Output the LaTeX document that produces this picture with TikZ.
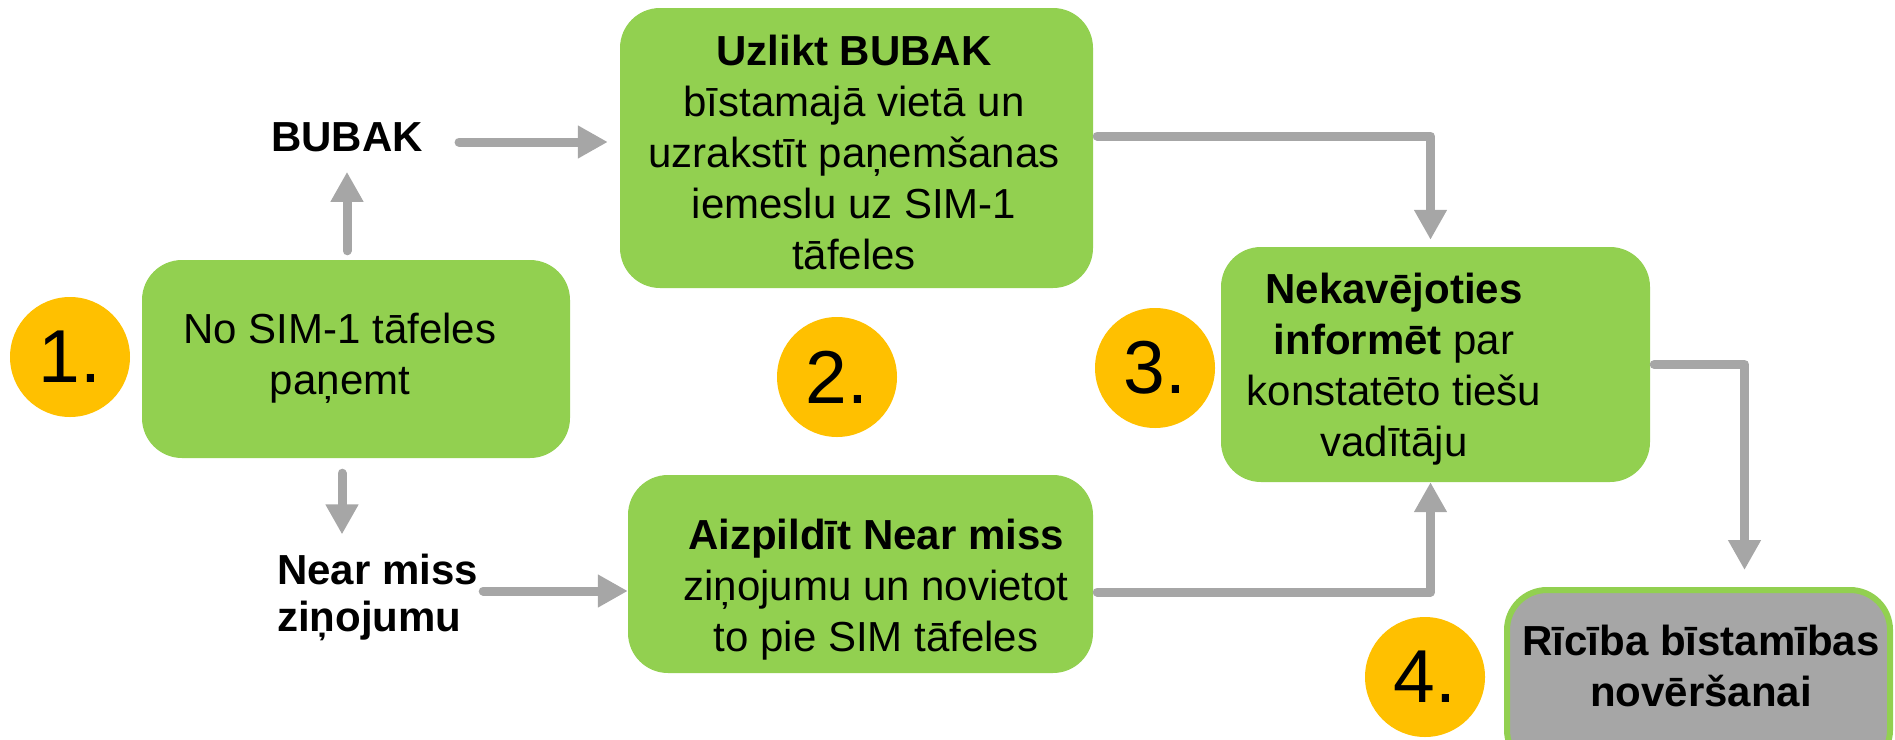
\documentclass[tikz,border=0pt]{standalone}
\usepackage{fontspec}
\setmainfont{Liberation Sans}
\usetikzlibrary{arrows.meta}
\definecolor{leaf}{HTML}{92D050}
\definecolor{amber}{HTML}{FFC000}
\definecolor{pipe}{HTML}{A6A6A6}

\begin{document}
\begin{tikzpicture}[x=1pt, y=-1pt, inner sep=0pt,
   greenbox/.style={fill=leaf, rounded corners=40pt},
   numdot/.style={circle, fill=amber, minimum size=120pt, font=\fontsize{75}{80}\selectfont},
   boxtext/.style={align=center, font=\fontsize{42}{51}\selectfont},
   tag/.style={align=left, font=\bfseries\fontsize{42}{47}\selectfont},
   flow/.style={draw=pipe, line width=9pt, line cap=round, line join=round,
     -{Triangle[length=30pt,width=31pt]}}
   ]
   \useasboundingbox (0,0) rectangle (1895,739);

   % boxes
   \path (356,359) node[greenbox, minimum width=428pt, minimum height=198pt] (take) {}
   (340,358) node[boxtext] (taketext) {No SIM-1 tāfeles\\paņemt};
   \path (856.5,148) node[greenbox, minimum width=473pt, minimum height=280pt] (mark) {}
   (854,152) node[boxtext] (marktext) {\textbf{Uzlikt BUBAK}\\bīstamajā vietā un\\uzrakstīt paņemšanas\\iemeslu uz SIM-1\\tāfeles};
   \path (1435.5,364.5) node[greenbox, minimum width=429pt, minimum height=235pt] (inform) {}
   (1394,369) node[boxtext] (informtext) {\textbf{Nekavējoties}\\\textbf{informēt} par\\konstatēto tiešu\\vadītāju};
   \path (860.5,574) node[greenbox, minimum width=465pt, minimum height=198pt] (report) {}
   (876,590) node[boxtext] (reporttext) {\textbf{Aizpildīt Near miss}\\ziņojumu un novietot\\to pie SIM tāfeles};
   \path (1698.5,680) node[greenbox, fill=pipe, draw=leaf, line width=6pt, minimum width=383pt, minimum height=180pt] (act) {}
   (1701,666) node[boxtext, font=\bfseries\fontsize{42}{51}\selectfont] (acttext) {Rīcība bīstamības\\novēršanai};

   % step numbers
   \path (70,357) node[numdot] (num1) {1.}
   (837,377) node[numdot] (num2) {2.}
   (1155,368) node[numdot] (num3) {3.}
   (1425,677) node[numdot] (num4) {4.};

   % side labels
   \path (347,137) node[tag] (bubak) {BUBAK}
   (277,597) node[tag, anchor=west] (nearmiss) {Near miss\\ziņojumu};

   \draw[flow, shorten <=9pt, shorten >=20pt] (take.north -| bubak.south) -- (bubak.south);
   \draw[flow, shorten <=36pt, shorten >=12pt] ([yshift=-5pt]bubak.east) -- ([yshift=-5pt]bubak.east -| mark.west);
   \draw[flow, shorten <=15pt, shorten >=19pt] ([xshift=-14pt]take.south) -- ([xshift=-14pt]take.south |- nearmiss.north);
   \draw[flow, shorten <=5pt] ([yshift=6pt]nearmiss.east) -- ([yshift=6pt]nearmiss.east -| report.west);
   \draw[flow, shorten <=4pt, shorten >=7pt] ([yshift=12pt]mark.east) -| ([xshift=-5pt]inform.north);
   \draw[flow, shorten <=4pt] ([yshift=-18pt]report.east) -| ([xshift=-5pt]inform.south);
   \draw[flow, shorten <=4pt, shorten >=17pt] (inform.east) -| ([xshift=46pt]act.north);

\end{tikzpicture}
\end{document}
